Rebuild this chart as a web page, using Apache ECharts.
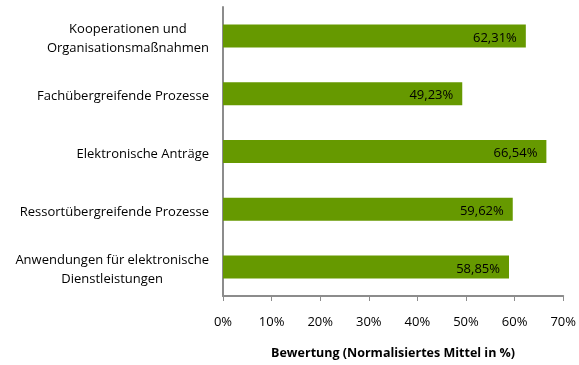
<!DOCTYPE html>
<html>
<head>
<meta charset="utf-8">
<script src="https://cdn.jsdelivr.net/npm/echarts@6/dist/echarts.min.js"></script>
<style>
  html, body { margin: 0; padding: 0; background: #fff; }
  #chart { width: 579px; height: 365px; }
</style>
</head>
<body>
<div id="chart"></div>
<script>
// Kategorien (von oben nach unten) und Bewertungen in %
const categories = [
  ['Kooperationen und', 'Organisationsmaßnahmen'],
  ['Fachübergreifende Prozesse'],
  ['Elektronische Anträge'],
  ['Ressortübergreifende Prozesse'],
  ['Anwendungen für elektronische', 'Dienstleistungen']
];
const values = [62.31, 49.23, 66.54, 59.62, 58.85];
const xTicks = [0, 10, 20, 30, 40, 50, 60, 70];
const axisTitle = 'Bewertung (Normalisiertes Mittel in %)';

const FONT = '"Open Sans", sans-serif';

const chart = echarts.init(document.getElementById('chart'), null, { renderer: 'canvas' });

chart.setOption({
  animation: false,
  backgroundColor: '#ffffff',
  grid: { left: 223, right: 15, top: 7, bottom: 61, containLabel: false },
  xAxis: {
    type: 'value',
    min: xTicks[0],
    max: xTicks[xTicks.length - 1],
    interval: 10,
    name: axisTitle,
    nameLocation: 'middle',
    nameGap: 51,
    nameTextStyle: { fontFamily: FONT, fontSize: 12.5, fontWeight: 'bold', color: '#000' },
    axisLine: { show: true, lineStyle: { color: '#8c8c8c', width: 2 } },
    axisTick: { show: true, length: 5, lineStyle: { color: '#8c8c8c', width: 1 } },
    splitLine: { show: false },
    axisLabel: {
      margin: 20,
      fontFamily: FONT,
      fontSize: 13,
      color: '#000',
      formatter: v => v + '%'
    }
  },
  yAxis: {
    type: 'category',
    inverse: true,
    data: categories.map(c => c.join('\n')),
    axisLine: { show: true, lineStyle: { color: '#8c8c8c', width: 2 } },
    axisTick: { show: false },
    axisLabel: {
      margin: 14,
      align: 'right',
      formatter: v => v.split('\n').map(l => '{a|' + l + '}').join('\n'),
      rich: {
        a: { fontFamily: FONT, fontSize: 13, color: '#000', align: 'center', lineHeight: 19, padding: [5, 0, 0, 0] }
      }
    }
  },
  series: [{
    type: 'bar',
    data: values,
    barWidth: 23,
    itemStyle: { color: '#669900' },
    label: {
      show: true,
      position: 'insideRight',
      distance: 9,
      offset: [0, 2],
      fontFamily: FONT,
      fontSize: 13,
      color: '#000',
      formatter: p => p.value.toFixed(2).replace('.', ',') + '%'
    }
  }]
});
</script>
</body>
</html>
